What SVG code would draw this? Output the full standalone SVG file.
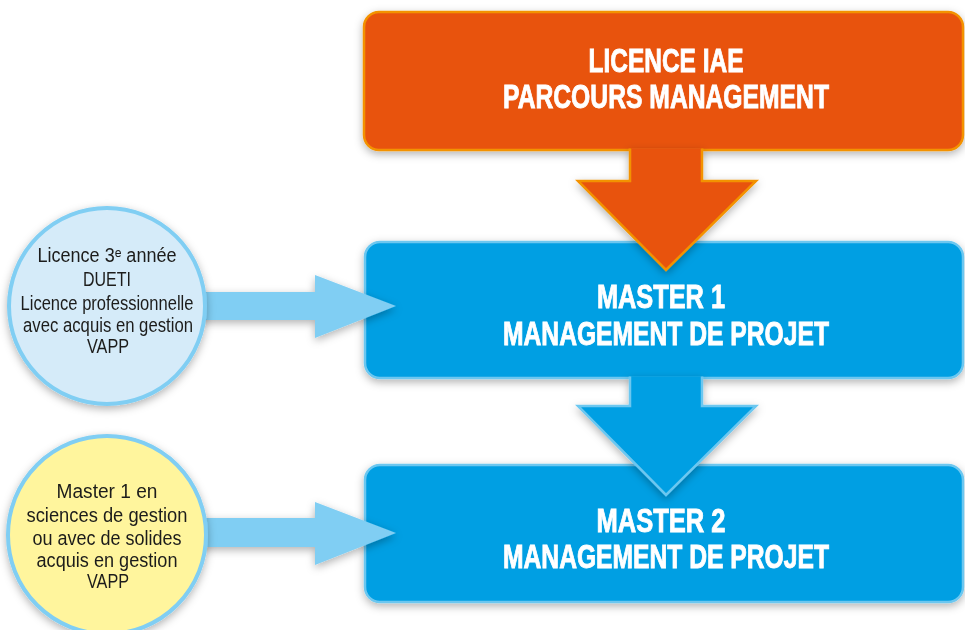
<svg xmlns="http://www.w3.org/2000/svg" width="965" height="630" viewBox="0 0 965 630">
<defs>
<filter id="sh" x="-20%" y="-20%" width="140%" height="150%">
<feDropShadow dx="0" dy="3" stdDeviation="4" flood-color="#000" flood-opacity="0.3"/>
</filter>
<style>
.title{font-family:"Liberation Sans Narrow","Liberation Sans",Arial,sans-serif;font-weight:bold;font-size:33px;fill:#fff;stroke:#fff;stroke-width:0.9;text-anchor:middle}
.small{font-family:"Liberation Sans Narrow","Liberation Sans","DejaVu Sans",Arial,sans-serif;font-size:19.5px;fill:#1d1d1b;text-anchor:middle}
.orange{fill:#E8530E;stroke:#F39200;stroke-width:2.5}
.blue{fill:#009FE3;stroke:#6CC7F0;stroke-width:2.5}
.side{fill:#80CEF3}
</style>
</defs>
<rect width="965" height="630" fill="#fff"/>

<g id="licence-iae" filter="url(#sh)">
<rect class="orange" x="364" y="12" width="599" height="138" rx="15"/>
<text class="title" x="666" y="72" textLength="155" lengthAdjust="spacingAndGlyphs">LICENCE IAE</text>
<text class="title" x="666" y="108" textLength="326" lengthAdjust="spacingAndGlyphs">PARCOURS MANAGEMENT</text>
</g>

<g id="master1" filter="url(#sh)">
<rect class="blue" x="365" y="242" width="598" height="136" rx="15"/>
<text class="title" x="661" y="308" textLength="128" lengthAdjust="spacingAndGlyphs">MASTER 1</text>
<text class="title" x="666" y="345" textLength="326" lengthAdjust="spacingAndGlyphs">MANAGEMENT DE PROJET</text>
</g>

<g id="master2" filter="url(#sh)">
<rect class="blue" x="365" y="465" width="598" height="137" rx="15"/>
<text class="title" x="661" y="532" textLength="129" lengthAdjust="spacingAndGlyphs">MASTER 2</text>
<text class="title" x="666" y="568" textLength="326" lengthAdjust="spacingAndGlyphs">MANAGEMENT DE PROJET</text>
</g>

<g id="connectors" filter="url(#sh)">
<path class="orange" d="M630,148.5 L630,181 L578,181 L666,270 L756,181 L702,181 L702,148.5"/>
<path class="blue" d="M630,376.5 L630,406 L578,406 L666,495 L756,406 L702,406 L702,376.5"/>
<path class="side" d="M200,292 L315,292 L315,275 L396,306 L315,338 L315,320 L200,320 Z"/>
<path class="side" d="M200,518 L315,518 L315,502 L396,533 L315,565 L315,547 L200,547 Z"/>
</g>

<g id="circle-licence3" filter="url(#sh)">
<circle cx="107" cy="306" r="98" fill="#D5EBF9" stroke="#80CEF3" stroke-width="4"/>
<text class="small" x="107" y="262" textLength="139" lengthAdjust="spacingAndGlyphs">Licence 3ᵉ année</text>
<text class="small" x="107" y="286" textLength="48" lengthAdjust="spacingAndGlyphs">DUETI</text>
<text class="small" x="107" y="310" textLength="173" lengthAdjust="spacingAndGlyphs">Licence professionnelle</text>
<text class="small" x="108" y="332" textLength="170" lengthAdjust="spacingAndGlyphs">avec acquis en gestion</text>
<text class="small" x="108" y="353" textLength="42" lengthAdjust="spacingAndGlyphs">VAPP</text>
</g>

<g id="circle-master1" filter="url(#sh)">
<circle cx="107" cy="535" r="99" fill="#FFF59D" stroke="#80CEF3" stroke-width="4"/>
<text class="small" x="107" y="498" textLength="101" lengthAdjust="spacingAndGlyphs">Master 1 en</text>
<text class="small" x="107" y="522" textLength="161" lengthAdjust="spacingAndGlyphs">sciences de gestion</text>
<text class="small" x="107" y="545" textLength="149" lengthAdjust="spacingAndGlyphs">ou avec de solides</text>
<text class="small" x="107" y="567" textLength="141" lengthAdjust="spacingAndGlyphs">acquis en gestion</text>
<text class="small" x="108" y="588" textLength="42" lengthAdjust="spacingAndGlyphs">VAPP</text>
</g>
</svg>
